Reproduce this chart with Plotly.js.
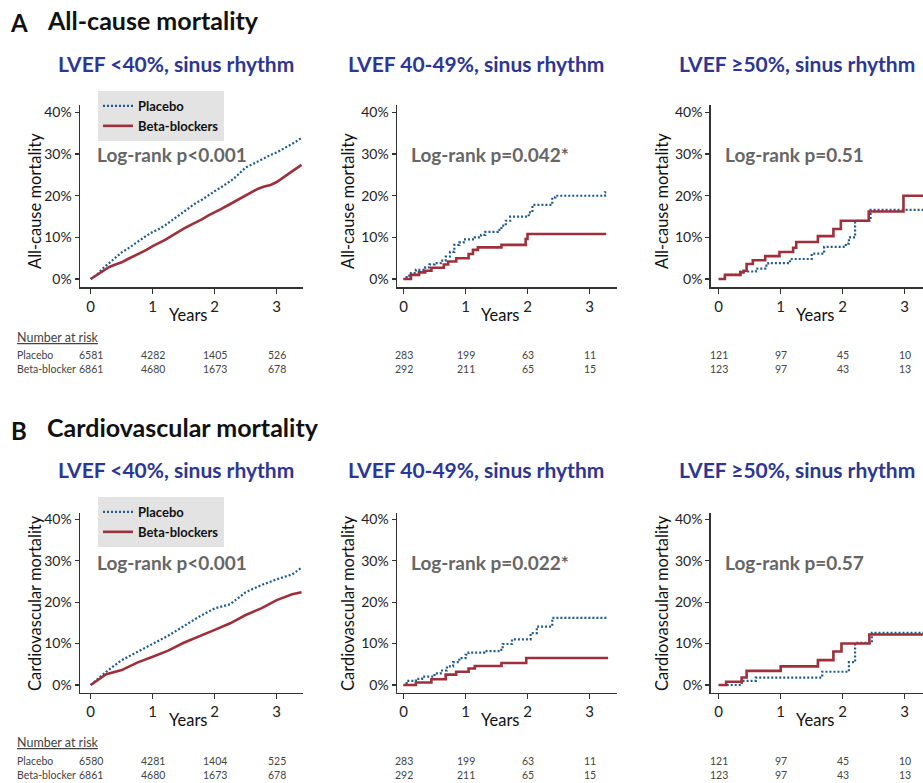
<!DOCTYPE html>
<html>
<head>
<meta charset="utf-8">
<script src="https://cdn.plot.ly/plotly-3.0.1.min.js"></script>
<style>html,body{margin:0;padding:0;background:#fff;}#chart{width:923px;height:783px;}</style>
</head>
<body>
<div id="chart"></div>
<script>
// ---------- DATA ----------
// A1: all-cause, LVEF <40%
const a1PlaceboT = [0,0.1,0.2,0.3,0.4,0.5,0.6,0.7,0.8,0.9,1.0,1.1,1.2,1.3,1.4,1.5,1.6,1.7,1.8,1.9,2.0,2.1,2.2,2.3,2.4,2.5,2.6,2.7,2.8,2.9,3.0,3.1,3.2,3.3,3.4];
const a1PlaceboY = [0,1.0,2.6,3.9,5.2,6.4,7.3,8.4,9.5,10.4,11.3,12.0,12.9,14.0,15.0,16.0,17.1,18.3,19.1,20.2,21.1,22.0,22.9,24.0,25.4,26.8,27.5,28.3,29.2,29.8,30.4,31.2,32.0,32.9,33.9];
const a1BetaT = [0,0.1,0.2,0.3,0.4,0.5,0.6,0.7,0.8,0.9,1.0,1.1,1.2,1.3,1.4,1.5,1.6,1.7,1.8,1.9,2.0,2.1,2.2,2.3,2.4,2.5,2.6,2.7,2.8,2.9,3.0,3.1,3.2,3.3,3.4];
const a1BetaY = [0,1.0,2.0,2.9,3.5,4.0,4.8,5.5,6.2,7.0,7.9,8.6,9.4,10.3,11.3,12.1,12.9,13.6,14.4,15.3,16.0,16.8,17.6,18.4,19.3,20.0,20.8,21.7,22.2,22.6,23.3,24.4,25.3,26.4,27.4];
// A2: all-cause, LVEF 40-49%
const a2PlaceboT = [0,0.05,0.12,0.2,0.35,0.42,0.5,0.6,0.68,0.75,0.82,0.9,0.97,1.15,1.25,1.32,1.52,1.58,1.65,1.72,2.02,2.08,2.4,2.45,3.25,3.27];
const a2PlaceboY = [0,0.8,1.4,2.2,2.8,3.5,3.8,4.4,5.4,6.5,8.2,8.8,9.5,10.0,10.6,11.3,11.8,12.8,14.0,15.0,16.0,17.8,19.6,20.0,20.8,20.8];
const a2BetaT = [0,0.12,0.25,0.35,0.45,0.65,0.72,0.85,1.05,1.12,1.2,1.58,1.97,2.0,3.27];
const a2BetaY = [0,1.0,1.6,2.0,2.7,3.5,4.2,5.0,6.0,7.0,7.6,8.2,9.6,10.8,10.8];
// A3: all-cause, LVEF >=50%
const a3PlaceboT = [0,0.1,0.35,0.6,0.75,0.8,1.15,1.5,1.7,2.05,2.1,2.2,2.45,3.3];
const a3PlaceboY = [0,1.0,1.8,2.5,3.2,3.8,4.8,6.1,7.7,8.5,10.0,14.0,16.6,16.6];
const a3BetaT = [0,0.1,0.35,0.4,0.45,0.55,0.75,0.98,1.2,1.25,1.6,1.85,1.97,2.42,2.98,3.3];
const a3BetaY = [0,1.0,1.6,2.0,3.6,4.5,5.5,6.5,7.5,8.9,10.3,12.0,14.0,16.2,20.0,20.0];
// B1: cardiovascular, LVEF <40%
const b1PlaceboT = [0,0.25,0.5,0.75,1.0,1.25,1.5,1.75,2.0,2.25,2.5,2.75,3.0,3.25,3.4];
const b1PlaceboY = [0,3.2,6.0,8.0,10.1,11.9,14.2,16.5,18.5,19.5,22.4,24.1,25.5,26.7,28.3];
const b1BetaT = [0,0.25,0.5,0.75,1.0,1.25,1.5,1.75,2.0,2.25,2.5,2.75,3.0,3.25,3.4];
const b1BetaY = [0,2.6,3.6,5.4,6.8,8.3,10.2,11.7,13.3,14.9,16.9,18.5,20.5,21.9,22.4];
// B2: cardiovascular, LVEF 40-49%
const b2PlaceboT = [0,0.05,0.2,0.3,0.5,0.6,0.7,0.8,0.9,1.0,1.05,1.3,1.55,1.6,1.75,2.05,2.15,2.4,3.3];
const b2PlaceboY = [0,1.0,1.5,2.0,2.8,3.5,4.5,5.5,6.5,7.3,7.8,8.2,8.5,9.9,11.0,12.5,14.1,16.2,16.2];
const b2BetaT = [0,0.2,0.45,0.68,0.85,1.05,1.15,1.58,1.98,3.3];
const b2BetaY = [0,0.6,1.4,2.5,3.2,4.0,4.6,5.3,6.5,6.5];
// B3: cardiovascular, LVEF >=50%
const b3PlaceboT = [0,0.37,0.6,1.67,2.1,2.2,2.47,3.3];
const b3PlaceboY = [0,1.0,1.8,3.2,5.5,10.2,12.6,12.6];
const b3BetaT = [0,0.12,0.37,0.45,1.0,1.6,1.85,1.98,2.43,3.3];
const b3BetaY = [0,0.8,1.8,3.4,4.5,6.0,8.1,10.0,12.2,12.2];

// Number at risk
const riskTimes = [0,1,2,3];
const riskA1Placebo = [6581,4282,1405,526];
const riskA1Beta    = [6861,4680,1673,678];
const riskA2Placebo = [283,199,63,11];
const riskA2Beta    = [292,211,65,15];
const riskA3Placebo = [121,97,45,10];
const riskA3Beta    = [123,97,43,13];
const riskB1Placebo = [6580,4281,1404,525];
const riskB1Beta    = [6861,4680,1673,678];
const riskB2Placebo = [283,199,63,11];
const riskB2Beta    = [292,211,65,15];
const riskB3Placebo = [121,97,45,10];
const riskB3Beta    = [123,97,43,13];

const subtitles = ['LVEF <40%, sinus rhythm','LVEF 40-49%, sinus rhythm','LVEF ≥50%, sinus rhythm'];
const pvalsA = ['Log-rank p<0.001','Log-rank p=0.042*','Log-rank p=0.51'];
const pvalsB = ['Log-rank p<0.001','Log-rank p=0.022*','Log-rank p=0.57'];
const yTicks = [0,10,20,30,40];
const yTickText = ['0%','10%','20%','30%','40%'];
const xTicks = [0,1,2,3];

// ---------- STYLE ----------
const W = 923, H = 783;
const BLUE = '#1f5b8c', RED = '#9e2f3b';
const FONT = 'Lato, "Open Sans", sans-serif';
const px = v => v / W;
const py = v => 1 - v / H;

const traces = [];
function addPair(idx, pT, pY, bT, bY, shape, legendName, showLeg) {
  const xa = 'x' + (idx === 1 ? '' : idx), ya = 'y' + (idx === 1 ? '' : idx);
  traces.push({x: pT, y: pY, xaxis: xa, yaxis: ya, type: 'scatter', mode: 'lines', name: 'Placebo',
    line: {color: BLUE, width: 2.2, dash: '2px,2px', shape: shape}, legend: legendName, showlegend: showLeg, hoverinfo: 'skip'});
  traces.push({x: bT, y: bY, xaxis: xa, yaxis: ya, type: 'scatter', mode: 'lines', name: 'Beta-blockers',
    line: {color: RED, width: 2.6, shape: shape}, legend: legendName, showlegend: showLeg, hoverinfo: 'skip'});
}
addPair(1, a1PlaceboT, a1PlaceboY, a1BetaT, a1BetaY, 'linear', 'legend', true);
addPair(2, a2PlaceboT, a2PlaceboY, a2BetaT, a2BetaY, 'hv', 'legend', false);
addPair(3, a3PlaceboT, a3PlaceboY, a3BetaT, a3BetaY, 'hv', 'legend', false);
addPair(4, b1PlaceboT, b1PlaceboY, b1BetaT, b1BetaY, 'linear', 'legend2', true);
addPair(5, b2PlaceboT, b2PlaceboY, b2BetaT, b2BetaY, 'hv', 'legend2', false);
addPair(6, b3PlaceboT, b3PlaceboY, b3BetaT, b3BetaY, 'hv', 'legend2', false);

// panel geometry (pixels)
const colX = [ {l: 80, r: 303, zero: 90.7}, {l: 397, r: 617, zero: 403.5}, {l: 710.7, r: 923, zero: 718.7} ];
const PPY = 62; // pixels per year
const rows = [ {top: 105, bottom: 287, zero: 279, forty: 112.5}, {top: 512.7, bottom: 692.7, zero: 685, forty: 519.3} ];

const legendStyle = {xanchor: 'left', yanchor: 'top', bgcolor: '#e3e3e3',
  font: {family: FONT, size: 13, color: '#111', weight: 'bold'}, itemwidth: 30, tracegroupgap: 0};
const layout = {
  width: W, height: H, margin: {l: 0, r: 0, t: 0, b: 0},
  paper_bgcolor: '#fff', plot_bgcolor: 'rgba(0,0,0,0)',
  font: {family: FONT, color: '#222'},
  annotations: [], showlegend: true,
  legend: Object.assign({x: px(98), y: py(91)}, legendStyle),
  legend2: Object.assign({x: px(98), y: py(497)}, legendStyle)
};

for (let r = 0; r < 2; r++) {
  const R = rows[r];
  const ppp = (R.zero - R.forty) / 40;
  const yr = [(R.zero - R.bottom) / ppp, 40 + (R.forty - R.top) / ppp];
  for (let c = 0; c < 3; c++) {
    const idx = r * 3 + c + 1;
    const C = colX[c];
    const xr = [(C.l - C.zero) / PPY, (C.r - C.zero) / PPY];
    const xk = 'xaxis' + (idx === 1 ? '' : idx), yk = 'yaxis' + (idx === 1 ? '' : idx);
    layout[xk] = {domain: [px(C.l), Math.min(1, px(C.r))], range: xr, anchor: 'y' + (idx === 1 ? '' : idx),
      showline: true, linecolor: '#333', linewidth: 1.5, ticks: 'outside', ticklen: 5, tickwidth: 1.3, tickcolor: '#333',
      tickmode: 'array', tickvals: xTicks, ticktext: xTicks.map(String), showgrid: false, zeroline: false,
      tickfont: {size: 15, color: '#222', family: FONT}, fixedrange: true};
    layout[yk] = {domain: [py(R.bottom), py(R.top)], range: yr, anchor: 'x' + (idx === 1 ? '' : idx),
      showline: true, linecolor: '#333', linewidth: 1.5, ticks: 'outside', ticklen: 4, tickwidth: 1.3, tickcolor: '#333',
      tickmode: 'array', tickvals: yTicks, ticktext: yTickText, showgrid: false, zeroline: false,
      tickfont: {size: 14, color: '#222', family: FONT}, fixedrange: true};
  }
}

const ann = layout.annotations;
function txt(text, x, y, opts) {
  ann.push(Object.assign({text: text, x: px(x), y: py(y), xref: 'paper', yref: 'paper', showarrow: false,
    xanchor: 'center', yanchor: 'middle'}, opts));
}
// Section headings
txt('A', 19, 23, {font: {family: FONT, size: 24, color: '#111', weight: 'bold'}});
txt('All-cause mortality', 45, 20, {xanchor: 'left', font: {family: FONT, size: 25, color: '#111', weight: 'bold'}});
txt('B', 19, 430, {font: {family: FONT, size: 24, color: '#111', weight: 'bold'}});
txt('Cardiovascular mortality', 45, 427, {xanchor: 'left', font: {family: FONT, size: 25, color: '#111', weight: 'bold'}});

const subX = [175.5, 475.5, 797];
const pX = [95, 409, 723];
const yTitleX = [35, 348, 662];
const yearsX = [188, 500, 815];
const rowText = [
  {sub: 64, p: 155, ytitle: 201, ytext: 'All-cause mortality', years: 315, pv: pvalsA, nar: 337, r1: 355, r2: 369,
   risk: [[riskA1Placebo, riskA1Beta],[riskA2Placebo, riskA2Beta],[riskA3Placebo, riskA3Beta]]},
  {sub: 469, p: 562, ytitle: 603, ytext: 'Cardiovascular mortality', years: 720, pv: pvalsB, nar: 742, r1: 761, r2: 775,
   risk: [[riskB1Placebo, riskB1Beta],[riskB2Placebo, riskB2Beta],[riskB3Placebo, riskB3Beta]]}
];
for (let r = 0; r < 2; r++) {
  const T = rowText[r];
  for (let c = 0; c < 3; c++) {
    const idx = r * 3 + c + 1;
    const xref = 'x' + (idx === 1 ? '' : idx);
    txt(subtitles[c], subX[c], T.sub, {font: {family: FONT, size: 21, color: '#2d3694', weight: 'bold'}});
    txt(T.pv[c], pX[c], T.p, {xanchor: 'left', font: {family: FONT, size: 19, color: '#666', weight: 'bold'}});
    txt(T.ytext, yTitleX[c], T.ytitle, {textangle: -90, font: {family: FONT, size: 16.5, color: '#111'}});
    txt('Years', yearsX[c], T.years, {font: {family: FONT, size: 16.5, color: '#111'}});
    for (let k = 0; k < riskTimes.length; k++) {
      ann.push({text: String(T.risk[c][0][k]), x: riskTimes[k], xref: xref, y: py(T.r1), yref: 'paper',
        showarrow: false, xanchor: 'center', yanchor: 'middle', font: {family: FONT, size: 10.5, color: '#444'}});
      ann.push({text: String(T.risk[c][1][k]), x: riskTimes[k], xref: xref, y: py(T.r2), yref: 'paper',
        showarrow: false, xanchor: 'center', yanchor: 'middle', font: {family: FONT, size: 10.5, color: '#444'}});
    }
  }
  txt('Number at risk', 15, T.nar, {xanchor: 'left', font: {family: FONT, size: 12.5, color: '#444', lineposition: 'under'}});
  txt('Placebo', 15, T.r1, {xanchor: 'left', font: {family: FONT, size: 10.5, color: '#444'}});
  txt('Beta-blocker', 15, T.r2, {xanchor: 'left', font: {family: FONT, size: 10.5, color: '#444'}});
}

Plotly.newPlot('chart', traces, layout, {displayModeBar: false, staticPlot: true});
</script>
</body>
</html>
